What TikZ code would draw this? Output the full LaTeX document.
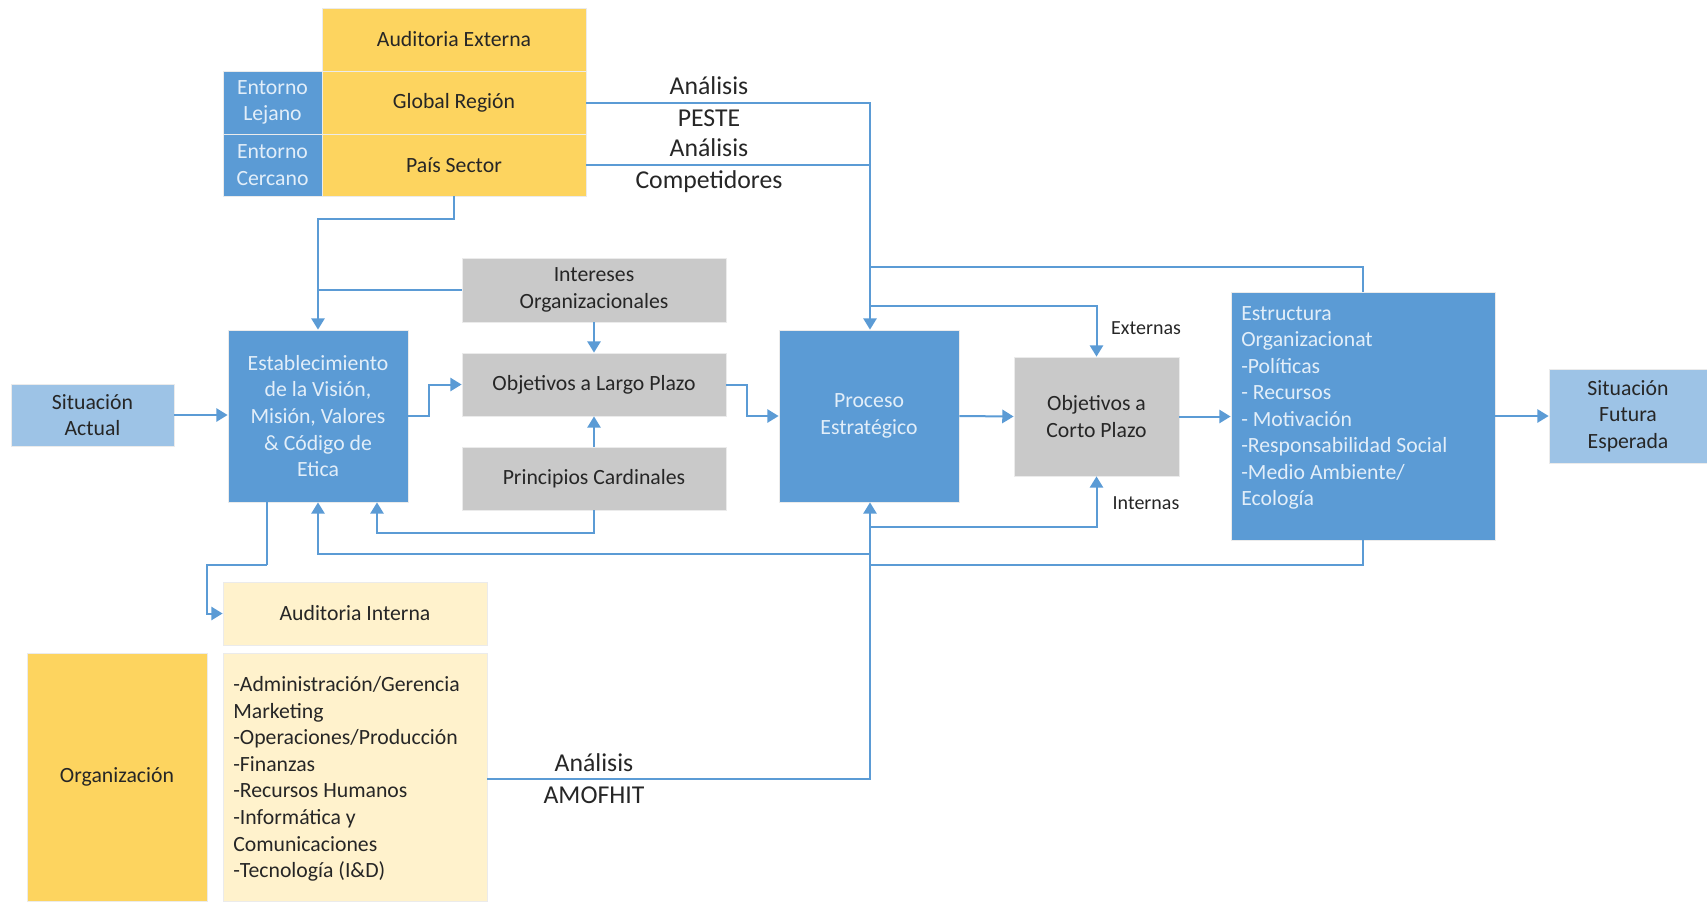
\documentclass[tikz,border=0pt]{standalone}
\usepackage{fontspec}
\setmainfont{Carlito}
\usetikzlibrary{arrows.meta}
\definecolor{bd}{RGB}{91,155,213}
\definecolor{bl}{RGB}{157,195,230}
\definecolor{yl}{RGB}{253,212,95}
\definecolor{cr}{RGB}{255,242,204}
\definecolor{gr}{RGB}{201,201,201}
\definecolor{ln}{RGB}{91,155,213}
\definecolor{td}{RGB}{38,38,38}
\definecolor{tl}{RGB}{226,238,249}
\tikzset{
  box/.style={rectangle, inner sep=0pt, align=center, draw=black!8, line width=0.6pt,
    font=\fontsize{16.3}{19.9}\selectfont, text=td},
  dark/.style={box, fill=bd, text=tl},
  light/.style={box, fill=bl},
  yel/.style={box, fill=yl},
  cream/.style={box, fill=cr},
  grey/.style={box, fill=gr},
  lab/.style={inner sep=0pt, align=center, font=\fontsize{19.3}{23.5}\selectfont, text=td},
  slab/.style={inner sep=0pt, font=\fontsize{15}{18}\selectfont, text=td},
  wire/.style={draw=ln, line width=1.5pt},
  arr/.style={wire, -{Triangle[length=8.5pt,width=10pt]}},
}
\begin{document}
\begin{tikzpicture}[x=0.75pt,y=-0.75pt]
\useasboundingbox (0,0) rectangle (1707,901);
% top block
\node[yel, minimum width=198pt, minimum height=47.25pt] (audext) at (454,39.5) {Auditoria Externa};
\node[yel, minimum width=198pt, minimum height=47.25pt] (global) at (454,102.5) {Global Región};
\node[yel, minimum width=198pt, minimum height=46.5pt] (pais) at (454,165) {País Sector};
\node[dark, minimum width=74.25pt, minimum height=47.25pt] (lejano) at (272.5,102.5) {Entorno\\Lejano};
\node[dark, minimum width=74.25pt, minimum height=46.5pt] (cercano) at (272.5,165) {Entorno\\Cercano};
% middle row
\node[light, minimum width=122.25pt, minimum height=46.5pt] (sitact) at (92.5,415) {Situación\\Actual};
\node[dark, minimum width=135pt, minimum height=129pt] (estab) at (318,416) {Establecimiento\\de la Visión,\\Misión, Valores\\\& Código de\\Etica};
\node[grey, minimum width=198pt, minimum height=48pt] (inter) at (594,290) {Intereses\\Organizacionales};
\node[grey, minimum width=198pt, minimum height=47.25pt] (olp) at (594,384.5) {Objetivos a Largo Plazo};
\node[grey, minimum width=198pt, minimum height=47.25pt] (princ) at (594,478.5) {Principios Cardinales};
\node[dark, minimum width=135pt, minimum height=129pt] (proc) at (869,416) {Proceso\\Estratégico};
\node[grey, minimum width=123.75pt, minimum height=89.25pt] (ocp) at (1096.5,416.5) {Objetivos a\\Corto Plazo};
\node[dark, minimum width=198pt, minimum height=186pt] (estruc) at (1363,416) {};
\node[inner sep=0pt, anchor=west, align=left, font=\fontsize{16.3}{19.9}\selectfont, text=tl] (estructxt) at (1241,408)
  {Estructura\\Organizacionat\\-Políticas\\- Recursos\\- Motivación\\-Responsabilidad Social\\-Medio Ambiente/\\Ecología};
\node[light, minimum width=118.5pt, minimum height=70.5pt] (sitfut) at (1628,416) {Situación\\Futura\\Esperada};
% bottom
\node[cream, minimum width=198pt, minimum height=47.25pt] (audint) at (355,613.5) {Auditoria Interna};
\node[cream, minimum width=198pt, minimum height=186pt] (lista) at (355,777) {};
\node[inner sep=0pt, anchor=west, align=left, font=\fontsize{16.3}{19.9}\selectfont, text=td] (listatxt) at (233,779)
  {-Administración/Gerencia\\Marketing\\-Operaciones/Producción\\-Finanzas\\-Recursos Humanos\\-Informática y\\Comunicaciones\\-Tecnología (I\&D)};
\node[yel, minimum width=135pt, minimum height=186pt] (org) at (117,777) {Organización};
% labels
\node[lab] (peste) at (709,101.5) {Análisis\\PESTE};
\node[lab] (comp) at (709,165.5) {Análisis\\Competidores};
\node[lab] (amof) at (594,778.5) {Análisis\\AMOFHIT};
\node[slab] (ext) at (1146,328) {Externas};
\node[slab] (int) at (1146,503) {Internas};
% junction coordinates
\coordinate (ja) at (454,219);
\coordinate (jb) at (429,416);
\coordinate (jc) at (747,384.5);
\coordinate (jd) at (870,267);
\coordinate (je) at (870,306);
\coordinate (jf) at (870,527);
\coordinate (jg) at (870,554);
\coordinate (jh) at (870,565);
\coordinate (ji) at (594,533);
\coordinate (jj) at (267,565);
\coordinate (jk) at (207,565);
% connectors
\draw[arr] (pais.south) -- (ja) -| (estab.north);
\draw[wire] (inter.west) -- (inter.west -| estab.north);
\draw[arr] (sitact.east) -- (sitact.east -| estab.west);
\draw[arr] (estab.east) -- (jb) |- (olp.west);
\draw[arr] (inter.south) -- (olp.north);
\draw[arr] (princ.north) -- (olp.south);
\draw[arr] (princ.south) -- (ji) -| ([xshift=44.25pt]estab.south);
\draw[arr] (olp.east) -- (jc) |- (proc.west);
\draw[arr] (global.east) -| ([xshift=0.75pt]proc.north);
\draw[wire] (pais.east) -- (pais.east -| jd);
\draw[wire] (estruc.north) |- (jd);
\draw[arr] (je) -| (ocp.north);
\draw[arr] (proc.east) -- (ocp.west);
\draw[arr] (ocp.east) -- (ocp.east -| estruc.west);
\draw[arr] (estruc.east) -- (estruc.east -| sitfut.west);
\draw[arr] (jf) -| (ocp.south);
\draw[wire] (estruc.south) |- (jh);
\draw[arr] (lista.east |- amof) -| ([xshift=0.75pt]proc.south);
\draw[arr] (jg) -| (estab.south);
\draw[arr] (jj) -- (jk) |- (audint.west);
\draw[wire] (jj) -- (estab.south -| jj);
\end{tikzpicture}
\end{document}
